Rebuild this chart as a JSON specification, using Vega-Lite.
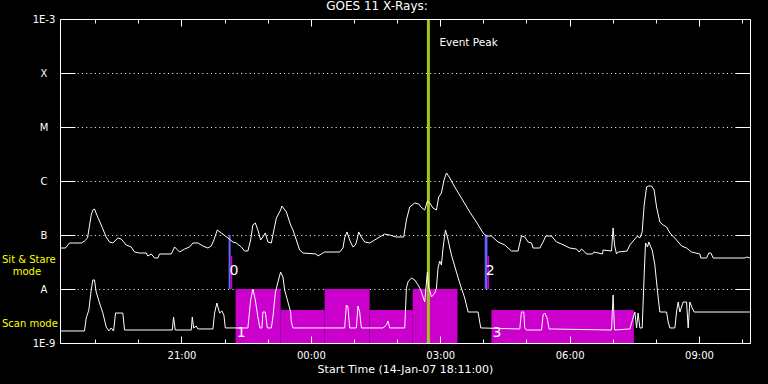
{
"$schema": "https://vega.github.io/schema/vega-lite/v6.json",
"width": 690, "height": 324,
"autosize": {"type": "none"},
"padding": {"left": 60, "top": 19, "right": 18, "bottom": 41},
"background": "black",
"title": {"text": "GOES 11 X-Rays:", "color": "white", "font": "DejaVu Sans", "fontSize": 12, "fontWeight": "normal", "anchor": "middle", "dx": -28, "offset": 1},
"config": {
  "view": {"stroke": null},
  "axis": {"labelColor": "white", "tickColor": "white", "domainColor": "white", "titleColor": "white", "labelFont": "DejaVu Sans", "titleFont": "DejaVu Sans", "labelFontSize": 10, "titleFontSize": 11, "titleFontWeight": "normal", "tickWidth": 1, "domainWidth": 1, "labelOverlap": false, "labelFlush": false}
},
"datasets": {
  "scan": [
    {"t0": 22.256, "t1": 23.299, "top": 1e-8},
    {"t0": 23.299, "t1": 24.320, "top": 4.08e-9},
    {"t0": 24.320, "t1": 25.364, "top": 1e-8},
    {"t0": 25.364, "t1": 26.362, "top": 4.08e-9},
    {"t0": 26.362, "t1": 27.400, "top": 1e-8},
    {"t0": 28.188, "t1": 31.490, "top": 4.08e-9}
  ],
  "sitstare": [
    {"t0": 22.093, "t1": 22.140, "top": 1e-7, "kind": "sit"},
    {"t0": 22.140, "t1": 22.178, "top": 4.08e-8, "kind": "stare"},
    {"t0": 28.032, "t1": 28.095, "top": 1e-7, "kind": "sit"},
    {"t0": 28.095, "t1": 28.133, "top": 4.08e-8, "kind": "stare"}
  ],
  "peak": [{"t": 26.726, "flux": 3.59e-4, "label": "Event Peak"}],
  "events": [
    {"t": 22.093, "flux": 2.11e-8, "label": "0"},
    {"t": 22.256, "flux": 1.53e-9, "label": "1"},
    {"t": 28.032, "flux": 2.11e-8, "label": "2"},
    {"t": 28.188, "flux": 1.53e-9, "label": "3"}
  ],
  "goes": [
{"ch":"long","t":18.195,"flux":5.74e-8},{"ch":"long","t":18.311,"flux":5.74e-8},{"ch":"long","t":18.404,"flux":7.11e-8},{"ch":"long","t":18.474,"flux":7.11e-8},{"ch":"long","t":18.682,"flux":7.11e-8},{"ch":"long","t":18.751,"flux":7.74e-8},{"ch":"long","t":18.822,"flux":8.80e-8},{"ch":"long","t":18.907,"flux":2.35e-7},{"ch":"long","t":18.945,"flux":2.90e-7},{"ch":"long","t":18.983,"flux":3.03e-7},
{"ch":"long","t":19.037,"flux":2.35e-7},{"ch":"long","t":19.139,"flux":1.53e-7},{"ch":"long","t":19.255,"flux":9.18e-8},{"ch":"long","t":19.332,"flux":7.42e-8},{"ch":"long","t":19.408,"flux":7.11e-8},{"ch":"long","t":19.524,"flux":8.80e-8},{"ch":"long","t":19.603,"flux":8.43e-8},{"ch":"long","t":19.719,"flux":6.53e-8},{"ch":"long","t":19.835,"flux":6.00e-8},{"ch":"long","t":19.912,"flux":4.84e-8},
{"ch":"long","t":20.028,"flux":4.64e-8},{"ch":"long","t":20.184,"flux":4.64e-8},{"ch":"long","t":20.220,"flux":4.08e-8},{"ch":"long","t":20.300,"flux":4.45e-8},{"ch":"long","t":20.376,"flux":3.75e-8},{"ch":"long","t":20.452,"flux":3.75e-8},{"ch":"long","t":20.492,"flux":4.45e-8},{"ch":"long","t":20.764,"flux":4.45e-8},{"ch":"long","t":20.840,"flux":6.00e-8},{"ch":"long","t":20.956,"flux":4.84e-8},
{"ch":"long","t":21.072,"flux":5.50e-8},{"ch":"long","t":21.188,"flux":6.00e-8},{"ch":"long","t":21.265,"flux":7.11e-8},{"ch":"long","t":21.381,"flux":7.11e-8},{"ch":"long","t":21.497,"flux":6.26e-8},{"ch":"long","t":21.613,"flux":5.74e-8},{"ch":"long","t":21.691,"flux":6.26e-8},{"ch":"long","t":21.752,"flux":8.08e-8},{"ch":"long","t":21.831,"flux":1.24e-7},{"ch":"long","t":21.923,"flux":1.09e-7},
{"ch":"long","t":22.077,"flux":8.80e-8},{"ch":"long","t":22.192,"flux":7.42e-8},{"ch":"long","t":22.271,"flux":7.11e-8},{"ch":"long","t":22.388,"flux":6.00e-8},{"ch":"long","t":22.464,"flux":5.05e-8},{"ch":"long","t":22.540,"flux":5.05e-8},{"ch":"long","t":22.604,"flux":8.08e-8},{"ch":"long","t":22.656,"flux":1.53e-7},{"ch":"long","t":22.712,"flux":1.67e-7},{"ch":"long","t":22.772,"flux":1.24e-7},
{"ch":"long","t":22.835,"flux":8.08e-8},{"ch":"long","t":22.888,"flux":9.18e-8},{"ch":"long","t":22.944,"flux":1.09e-7},{"ch":"long","t":23.005,"flux":7.42e-8},{"ch":"long","t":23.084,"flux":7.11e-8},{"ch":"long","t":23.144,"flux":1.24e-7},{"ch":"long","t":23.200,"flux":2.06e-7},{"ch":"long","t":23.299,"flux":2.90e-7},{"ch":"long","t":23.330,"flux":3.44e-7},{"ch":"long","t":23.432,"flux":2.67e-7},
{"ch":"long","t":23.531,"flux":1.53e-7},{"ch":"long","t":23.585,"flux":1.24e-7},{"ch":"long","t":23.664,"flux":8.08e-8},{"ch":"long","t":23.740,"flux":5.27e-8},{"ch":"long","t":23.817,"flux":4.64e-8},{"ch":"long","t":24.127,"flux":4.45e-8},{"ch":"long","t":24.165,"flux":4.08e-8},{"ch":"long","t":24.243,"flux":4.45e-8},{"ch":"long","t":24.320,"flux":4.84e-8},{"ch":"long","t":24.668,"flux":4.84e-8},
{"ch":"long","t":24.745,"flux":5.74e-8},{"ch":"long","t":24.784,"flux":8.80e-8},{"ch":"long","t":24.838,"flux":1.14e-7},{"ch":"long","t":24.900,"flux":8.08e-8},{"ch":"long","t":24.976,"flux":6.00e-8},{"ch":"long","t":25.033,"flux":6.53e-8},{"ch":"long","t":25.070,"flux":8.08e-8},{"ch":"long","t":25.109,"flux":1.14e-7},{"ch":"long","t":25.172,"flux":9.18e-8},{"ch":"long","t":25.248,"flux":7.42e-8},
{"ch":"long","t":25.364,"flux":7.11e-8},{"ch":"long","t":25.480,"flux":8.08e-8},{"ch":"long","t":25.557,"flux":8.80e-8},{"ch":"long","t":25.712,"flux":1.04e-7},{"ch":"long","t":25.828,"flux":1.00e-7},{"ch":"long","t":25.984,"flux":9.18e-8},{"ch":"long","t":26.153,"flux":9.18e-8},{"ch":"long","t":26.216,"flux":1.90e-7},{"ch":"long","t":26.293,"flux":3.30e-7},{"ch":"long","t":26.409,"flux":3.91e-7},
{"ch":"long","t":26.501,"flux":3.75e-7},{"ch":"long","t":26.578,"flux":3.16e-7},{"ch":"long","t":26.641,"flux":2.90e-7},{"ch":"long","t":26.703,"flux":4.26e-7},{"ch":"long","t":26.757,"flux":3.91e-7},{"ch":"long","t":26.833,"flux":3.16e-7},{"ch":"long","t":26.912,"flux":2.90e-7},{"ch":"long","t":26.965,"flux":5.05e-7},{"ch":"long","t":27.028,"flux":6.00e-7},{"ch":"long","t":27.088,"flux":1.04e-6},
{"ch":"long","t":27.144,"flux":1.41e-6},{"ch":"long","t":27.220,"flux":1.14e-6},{"ch":"long","t":27.336,"flux":7.74e-7},{"ch":"long","t":27.492,"flux":4.84e-7},{"ch":"long","t":27.684,"flux":2.67e-7},{"ch":"long","t":27.840,"flux":1.74e-7},{"ch":"long","t":27.993,"flux":1.09e-7},{"ch":"long","t":28.072,"flux":9.58e-8},{"ch":"long","t":28.188,"flux":9.58e-8},{"ch":"long","t":28.341,"flux":7.42e-8},
{"ch":"long","t":28.497,"flux":6.53e-8},{"ch":"long","t":28.652,"flux":5.05e-8},{"ch":"long","t":28.805,"flux":5.05e-8},{"ch":"long","t":28.884,"flux":9.58e-8},{"ch":"long","t":28.961,"flux":9.18e-8},{"ch":"long","t":29.037,"flux":7.42e-8},{"ch":"long","t":29.117,"flux":7.11e-8},{"ch":"long","t":29.153,"flux":5.74e-8},{"ch":"long","t":29.309,"flux":5.74e-8},{"ch":"long","t":29.385,"flux":7.42e-8},
{"ch":"long","t":29.448,"flux":9.58e-8},{"ch":"long","t":29.580,"flux":9.58e-8},{"ch":"long","t":29.696,"flux":7.42e-8},{"ch":"long","t":29.812,"flux":6.81e-8},{"ch":"long","t":30.004,"flux":5.74e-8},{"ch":"long","t":30.160,"flux":5.50e-8},{"ch":"long","t":30.221,"flux":4.84e-8},{"ch":"long","t":30.276,"flux":5.50e-8},{"ch":"long","t":30.352,"flux":4.84e-8},{"ch":"long","t":30.392,"flux":4.45e-8},
{"ch":"long","t":30.531,"flux":4.45e-8},{"ch":"long","t":30.562,"flux":4.84e-8},{"ch":"long","t":30.763,"flux":4.45e-8},{"ch":"long","t":30.777,"flux":5.27e-8},{"ch":"long","t":30.972,"flux":5.05e-8},{"ch":"long","t":31.009,"flux":1.35e-7},{"ch":"long","t":31.042,"flux":6.53e-8},{"ch":"long","t":31.088,"flux":4.45e-8},{"ch":"long","t":31.125,"flux":4.84e-8},{"ch":"long","t":31.334,"flux":5.05e-8},
{"ch":"long","t":31.397,"flux":6.53e-8},{"ch":"long","t":31.513,"flux":8.43e-8},{"ch":"long","t":31.575,"flux":9.58e-8},{"ch":"long","t":31.629,"flux":8.80e-8},{"ch":"long","t":31.683,"flux":1.14e-7},{"ch":"long","t":31.729,"flux":3.59e-7},{"ch":"long","t":31.785,"flux":7.74e-7},{"ch":"long","t":31.837,"flux":8.08e-7},{"ch":"long","t":31.901,"flux":8.08e-7},{"ch":"long","t":31.960,"flux":6.81e-7},
{"ch":"long","t":32.017,"flux":3.30e-7},{"ch":"long","t":32.093,"flux":1.74e-7},{"ch":"long","t":32.170,"flux":1.53e-7},{"ch":"long","t":32.248,"flux":1.41e-7},{"ch":"long","t":32.325,"flux":1.09e-7},{"ch":"long","t":32.480,"flux":8.08e-8},{"ch":"long","t":32.596,"flux":6.26e-8},{"ch":"long","t":32.712,"flux":5.74e-8},{"ch":"long","t":32.828,"flux":4.84e-8},{"ch":"long","t":33.021,"flux":4.45e-8},
{"ch":"long","t":33.044,"flux":3.75e-8},{"ch":"long","t":33.176,"flux":3.75e-8},{"ch":"long","t":33.230,"flux":4.64e-8},{"ch":"long","t":33.276,"flux":4.64e-8},{"ch":"long","t":33.330,"flux":3.75e-8},{"ch":"long","t":34.065,"flux":3.75e-8},{"ch":"long","t":34.105,"flux":3.91e-8},{"ch":"long","t":34.181,"flux":3.75e-8},
{"ch":"short","t":18.195,"flux":1.67e-9},{"ch":"short","t":18.751,"flux":1.67e-9},{"ch":"short","t":18.791,"flux":2.90e-9},{"ch":"short","t":18.852,"flux":4.08e-9},{"ch":"short","t":18.907,"flux":9.58e-9},{"ch":"short","t":18.945,"flux":1.47e-8},{"ch":"short","t":18.983,"flux":1.47e-8},{"ch":"short","t":19.023,"flux":8.80e-9},{"ch":"short","t":19.100,"flux":5.50e-9},{"ch":"short","t":19.177,"flux":3.59e-9},
{"ch":"short","t":19.255,"flux":1.98e-9},{"ch":"short","t":19.316,"flux":1.67e-9},{"ch":"short","t":19.371,"flux":1.90e-9},{"ch":"short","t":19.425,"flux":1.67e-9},{"ch":"short","t":19.471,"flux":3.59e-9},{"ch":"short","t":19.640,"flux":3.59e-9},{"ch":"short","t":19.680,"flux":1.74e-9},{"ch":"short","t":20.787,"flux":1.74e-9},{"ch":"short","t":20.816,"flux":3.03e-9},{"ch":"short","t":20.856,"flux":1.74e-9},
{"ch":"short","t":21.227,"flux":1.74e-9},{"ch":"short","t":21.251,"flux":3.03e-9},{"ch":"short","t":21.281,"flux":1.90e-9},{"ch":"short","t":21.343,"flux":2.06e-9},{"ch":"short","t":21.381,"flux":1.82e-9},{"ch":"short","t":21.729,"flux":1.82e-9},{"ch":"short","t":21.768,"flux":3.59e-9},{"ch":"short","t":21.821,"flux":5.50e-9},{"ch":"short","t":21.884,"flux":3.59e-9},{"ch":"short","t":21.937,"flux":3.91e-9},
{"ch":"short","t":21.984,"flux":3.30e-9},{"ch":"short","t":22.017,"flux":1.90e-9},{"ch":"short","t":22.540,"flux":1.90e-9},{"ch":"short","t":22.604,"flux":6.26e-9},{"ch":"short","t":22.656,"flux":1.00e-8},{"ch":"short","t":22.712,"flux":6.26e-9},{"ch":"short","t":22.772,"flux":3.03e-9},{"ch":"short","t":22.819,"flux":1.90e-9},{"ch":"short","t":22.866,"flux":1.90e-9},{"ch":"short","t":22.888,"flux":3.75e-9},
{"ch":"short","t":22.944,"flux":3.75e-9},{"ch":"short","t":22.991,"flux":1.90e-9},{"ch":"short","t":23.084,"flux":1.90e-9},{"ch":"short","t":23.121,"flux":3.03e-9},{"ch":"short","t":23.176,"flux":8.43e-9},{"ch":"short","t":23.237,"flux":1.35e-8},{"ch":"short","t":23.299,"flux":2.06e-8},{"ch":"short","t":23.353,"flux":1.67e-8},{"ch":"short","t":23.392,"flux":9.58e-9},{"ch":"short","t":23.469,"flux":5.74e-9},
{"ch":"short","t":23.531,"flux":3.75e-9},{"ch":"short","t":23.548,"flux":2.45e-9},{"ch":"short","t":23.585,"flux":1.90e-9},{"ch":"short","t":24.784,"flux":1.90e-9},{"ch":"short","t":24.824,"flux":5.05e-9},{"ch":"short","t":24.861,"flux":4.64e-9},{"ch":"short","t":24.900,"flux":1.90e-9},{"ch":"short","t":25.056,"flux":1.90e-9},{"ch":"short","t":25.092,"flux":4.84e-9},{"ch":"short","t":25.132,"flux":3.75e-9},
{"ch":"short","t":25.172,"flux":1.90e-9},{"ch":"short","t":25.673,"flux":1.90e-9},{"ch":"short","t":25.752,"flux":2.15e-9},{"ch":"short","t":25.789,"flux":2.56e-9},{"ch":"short","t":25.828,"flux":1.90e-9},{"ch":"short","t":26.177,"flux":1.90e-9},{"ch":"short","t":26.216,"flux":1.04e-8},{"ch":"short","t":26.253,"flux":1.35e-8},{"ch":"short","t":26.332,"flux":1.60e-8},{"ch":"short","t":26.409,"flux":1.47e-8},
{"ch":"short","t":26.485,"flux":1.19e-8},{"ch":"short","t":26.548,"flux":9.58e-9},{"ch":"short","t":26.601,"flux":7.11e-9},{"ch":"short","t":26.641,"flux":5.74e-9},{"ch":"short","t":26.679,"flux":1.29e-8},{"ch":"short","t":26.703,"flux":2.06e-8},{"ch":"short","t":26.733,"flux":1.09e-8},{"ch":"short","t":26.796,"flux":7.11e-9},{"ch":"short","t":26.873,"flux":8.43e-9},{"ch":"short","t":26.912,"flux":1.04e-8},
{"ch":"short","t":26.949,"flux":2.45e-8},{"ch":"short","t":26.989,"flux":3.30e-8},{"ch":"short","t":27.028,"flux":2.78e-8},{"ch":"short","t":27.065,"flux":5.74e-8},{"ch":"short","t":27.121,"flux":1.24e-7},{"ch":"short","t":27.167,"flux":9.18e-8},{"ch":"short","t":27.260,"flux":4.26e-8},{"ch":"short","t":27.376,"flux":2.06e-8},{"ch":"short","t":27.452,"flux":1.29e-8},{"ch":"short","t":27.568,"flux":6.81e-9},
{"ch":"short","t":27.646,"flux":3.75e-9},{"ch":"short","t":27.877,"flux":3.75e-9},{"ch":"short","t":27.940,"flux":1.90e-9},{"ch":"short","t":28.845,"flux":1.82e-9},{"ch":"short","t":28.884,"flux":3.75e-9},{"ch":"short","t":28.938,"flux":3.75e-9},{"ch":"short","t":28.961,"flux":1.90e-9},{"ch":"short","t":29.000,"flux":1.74e-9},{"ch":"short","t":29.349,"flux":1.74e-9},{"ch":"short","t":29.385,"flux":3.30e-9},
{"ch":"short","t":29.425,"flux":3.59e-9},{"ch":"short","t":29.479,"flux":2.90e-9},{"ch":"short","t":29.524,"flux":1.82e-9},{"ch":"short","t":30.972,"flux":1.74e-9},{"ch":"short","t":31.009,"flux":7.74e-9},{"ch":"short","t":31.042,"flux":1.74e-9},{"ch":"short","t":31.397,"flux":1.82e-9},{"ch":"short","t":31.513,"flux":3.75e-9},{"ch":"short","t":31.553,"flux":1.90e-9},{"ch":"short","t":31.589,"flux":3.59e-9},
{"ch":"short","t":31.629,"flux":1.90e-9},{"ch":"short","t":31.683,"flux":1.90e-9},{"ch":"short","t":31.729,"flux":1.82e-8},{"ch":"short","t":31.761,"flux":7.11e-8},{"ch":"short","t":31.807,"flux":6.00e-8},{"ch":"short","t":31.837,"flux":7.42e-8},{"ch":"short","t":31.884,"flux":6.00e-8},{"ch":"short","t":31.915,"flux":5.27e-8},{"ch":"short","t":31.977,"flux":2.78e-8},{"ch":"short","t":32.040,"flux":8.80e-9},
{"ch":"short","t":32.093,"flux":3.75e-9},{"ch":"short","t":32.248,"flux":3.75e-9},{"ch":"short","t":32.286,"flux":2.45e-9},{"ch":"short","t":32.325,"flux":1.90e-9},{"ch":"short","t":32.441,"flux":1.90e-9},{"ch":"short","t":32.480,"flux":3.75e-9},{"ch":"short","t":32.518,"flux":5.74e-9},{"ch":"short","t":32.557,"flux":3.75e-9},{"ch":"short","t":32.634,"flux":5.74e-9},{"ch":"short","t":32.712,"flux":5.74e-9},
{"ch":"short","t":32.750,"flux":1.90e-9},{"ch":"short","t":32.788,"flux":5.74e-9},{"ch":"short","t":32.842,"flux":4.45e-9},{"ch":"short","t":32.889,"flux":3.75e-9},{"ch":"short","t":34.181,"flux":3.75e-9}
  ]
},
"layer": [
  {
    "data": {"name": "scan"},
    "mark": {"type": "rect", "color": "#cc00cc"},
    "encoding": {
      "x": {"field": "t0", "type": "quantitative", "scale": {"domain": [18.1833, 34.1833], "nice": false, "zero": false},
            "axis": {"orient": "bottom", "values": [19,20,21,22,23,24,25,26,27,28,29,30,31,32,33,34], "tickSize": -4, "labels": false, "domain": true, "grid": false, "title": null, "zindex": 1}},
      "x2": {"field": "t1"},
      "y": {"field": "top", "type": "quantitative", "scale": {"type": "log", "domain": [1e-9, 1e-3], "nice": false},
            "axis": {"orient": "left", "values": [1e-9,1e-8,1e-7,1e-6,1e-5,1e-4,1e-3], "tickSize": -15, "labelExpr": "['1E-9','A','B','C','M','X','1E-3'][round(log(datum.value)/LN10)+9]", "labelAlign": "center", "labelBaseline": "middle", "labelPadding": 31.5, "grid": false, "domain": true, "title": null, "zindex": 1}},
      "y2": {"datum": 1e-9}
    }
  },
  {
    "data": {"name": "sitstare"},
    "mark": {"type": "rect"},
    "encoding": {
      "x": {"field": "t0", "type": "quantitative", "scale": {"domain": [18.1833, 34.1833], "nice": false, "zero": false},
            "axis": {"orient": "bottom", "values": [21,24,27,30,33], "tickSize": -7, "labelExpr": "(datum.value % 24 < 10 ? '0' : '') + (datum.value % 24) + ':00'", "labelPadding": 14, "domain": false, "grid": false, "title": "Start Time (14-Jan-07 18:11:00)", "titlePadding": 3, "zindex": 1}},
      "x2": {"field": "t1"},
      "y": {"field": "top", "type": "quantitative", "scale": {"type": "log", "domain": [1e-9, 1e-3], "nice": false},
            "axis": {"orient": "right", "values": [1e-9,1e-8,1e-7,1e-6,1e-5,1e-4,1e-3], "tickSize": -15, "labels": false, "grid": false, "domain": true, "title": null, "zindex": 1}},
      "y2": {"datum": 1e-8},
      "color": {"field": "kind", "type": "nominal", "scale": {"domain": ["sit", "stare"], "range": ["#6464ff", "#cc00cc"]}, "legend": null}
    }
  },
  {
    "data": {"name": "peak"},
    "mark": {"type": "rule", "color": "#a0c814", "strokeWidth": 3},
    "encoding": {
      "x": {"field": "t", "type": "quantitative", "scale": {"domain": [18.1833, 34.1833], "nice": false, "zero": false},
            "axis": {"orient": "top", "values": [19,20,21,22,23,24,25,26,27,28,29,30,31,32,33,34], "tickSize": -4, "labels": false, "domain": true, "grid": false, "title": null, "zindex": 1}}
    }
  },
  {
    "data": {"name": "goes"},
    "mark": {"type": "line", "color": "white", "strokeWidth": 1},
    "encoding": {
      "x": {"field": "t", "type": "quantitative", "scale": {"domain": [18.1833, 34.1833], "nice": false, "zero": false},
            "axis": {"orient": "top", "values": [21,24,27,30,33], "tickSize": -7, "labels": false, "domain": false, "grid": false, "title": null, "zindex": 1}},
      "y": {"field": "flux", "type": "quantitative", "scale": {"type": "log", "domain": [1e-9, 1e-3], "nice": false},
            "axis": {"orient": "left", "values": [1e-8,1e-7,1e-6,1e-5,1e-4], "ticks": false, "labels": false, "domain": false, "grid": true, "gridColor": "white", "gridDash": [1, 3.3], "gridWidth": 1, "gridOpacity": 1, "title": null, "zindex": 0}},
      "detail": {"field": "ch"}
    }
  },
  {
    "data": {"name": "events"},
    "mark": {"type": "text", "color": "white", "font": "DejaVu Sans", "fontSize": 14, "align": "left", "baseline": "middle", "dx": 1},
    "encoding": {
      "x": {"field": "t", "type": "quantitative", "scale": {"domain": [18.1833, 34.1833], "nice": false, "zero": false}, "axis": null},
      "y": {"field": "flux", "type": "quantitative", "scale": {"type": "log", "domain": [1e-9, 1e-3], "nice": false},
            "axis": {"orient": "left", "values": [2.25e-9, 3.59e-8], "labelExpr": "datum.value > 3e-8 ? 'Sit & Stare' : 'Scan mode'", "labelColor": "#ffff00", "labelAlign": "left", "labelBaseline": "middle", "labelPadding": 58.5, "ticks": false, "domain": false, "grid": false, "title": null}},
      "text": {"field": "label"}
    }
  },
  {
    "data": {"name": "peak"},
    "mark": {"type": "text", "color": "white", "font": "DejaVu Sans", "fontSize": 10.5, "align": "left", "baseline": "middle", "dx": 11},
    "encoding": {
      "x": {"field": "t", "type": "quantitative", "scale": {"domain": [18.1833, 34.1833], "nice": false, "zero": false}, "axis": null},
      "y": {"field": "flux", "type": "quantitative", "scale": {"type": "log", "domain": [1e-9, 1e-3], "nice": false},
            "axis": {"orient": "left", "values": [2.15e-8], "labelExpr": "'mode'", "labelColor": "#ffff00", "labelAlign": "left", "labelBaseline": "middle", "labelPadding": 47.8, "ticks": false, "domain": false, "grid": false, "title": null}},
      "text": {"field": "label"}
    }
  }
],
"resolve": {"axis": {"x": "independent", "y": "independent"}}
}
